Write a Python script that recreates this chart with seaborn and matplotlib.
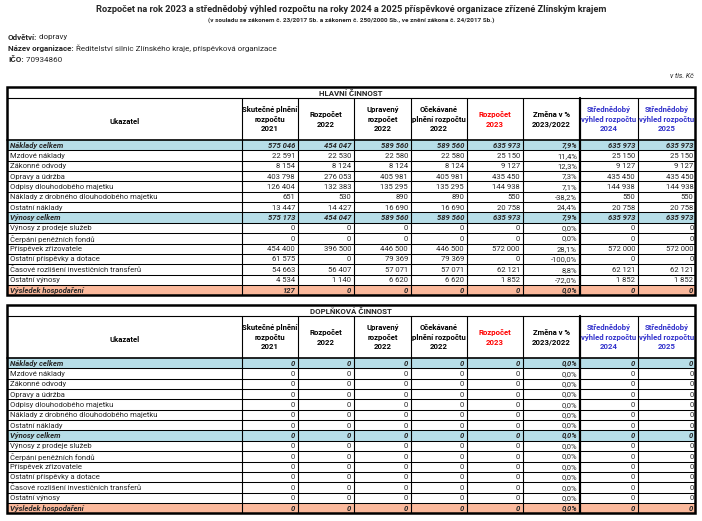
import matplotlib
matplotlib.use("Agg")
import matplotlib.pyplot as plt
from matplotlib import font_manager
from matplotlib.patches import Rectangle
import seaborn as sns

# texts
TITLE = ("Rozpočet na rok 2023 a střednědobý výhled rozpočtu na roky 2024 a 2025 "
         "příspěvkové organizace zřízené Zlínským krajem")
SUBTITLE = ("(v souladu se zákonem č. 23/2017 Sb. a zákonem č. 250/2000 Sb., "
            "ve znění zákona č. 24/2017 Sb.)")
info_bold = ["Odvětví:", "Název organizace:", "IČO:"]
info_text = [" dopravy", " Ředitelství silnic Zlínského kraje, příspěvková organizace", " 70934860"]
UNIT = "v tis. Kč"
sections = ["HLAVNÍ ČINNOST", "DOPLŇKOVÁ ČINNOST"]

col_headers = ["Ukazatel",
               "Skutečné plnění\nrozpočtu\n2021",
               "Rozpočet\n2022",
               "Upravený\nrozpočet\n2022",
               "Očekávané\nplnění rozpočtu\n2022",
               "Rozpočet\n2023",
               "Změna v %\n2023/2022",
               "Střednědobý\nvýhled rozpočtu\n2024",
               "Střednědobý\nvýhled rozpočtu\n2025"]

row_labels = ["Náklady celkem", "Mzdové náklady", "Zákonné odvody", "Opravy a údržba",
              "Odpisy dlouhodobého majetku", "Náklady z drobného dlouhodobého majetku",
              "Ostatní náklady", "Výnosy celkem", "Výnosy z prodeje služeb",
              "Čerpání peněžních fondů", "Příspěvek zřizovatele", "Ostatní příspěvky a dotace",
              "Časové rozlišení investičních transferů", "Ostatní výnosy", "Výsledek hospodaření"]
total_rows = ["Náklady celkem", "Výnosy celkem", "Výsledek hospodaření"]

# hlavní činnost
hl_2021 = [575046, 22591, 8154, 403798, 126404, 651, 13447, 575173, 0, 0, 454400, 61575, 54663, 4534, 127]
hl_r2022 = [454047, 22530, 8124, 276053, 132383, 530, 14427, 454047, 0, 0, 396500, 0, 56407, 1140, 0]
hl_u2022 = [589560, 22580, 8124, 405981, 135295, 890, 16690, 589560, 0, 0, 446500, 79369, 57071, 6620, 0]
hl_o2022 = [589560, 22580, 8124, 405981, 135295, 890, 16690, 589560, 0, 0, 446500, 79369, 57071, 6620, 0]
hl_r2023 = [635973, 25150, 9127, 435450, 144938, 550, 20758, 635973, 0, 0, 572000, 0, 62121, 1852, 0]
hl_change = [7.9, 11.4, 12.3, 7.3, 7.1, -38.2, 24.4, 7.9, 0.0, 0.0, 28.1, -100.0, 8.8, -72.0, 0.0]
hl_v2024 = [635973, 25150, 9127, 435450, 144938, 550, 20758, 635973, 0, 0, 572000, 0, 62121, 1852, 0]
hl_v2025 = [635973, 25150, 9127, 435450, 144938, 550, 20758, 635973, 0, 0, 572000, 0, 62121, 1852, 0]

# doplňková činnost
dp_2021 = [0] * 15
dp_r2022 = [0] * 15
dp_u2022 = [0] * 15
dp_o2022 = [0] * 15
dp_r2023 = [0] * 15
dp_change = [0.0] * 15
dp_v2024 = [0] * 15
dp_v2025 = [0] * 15

tables = [
    [hl_2021, hl_r2022, hl_u2022, hl_o2022, hl_r2023, hl_change, hl_v2024, hl_v2025],
    [dp_2021, dp_r2022, dp_u2022, dp_o2022, dp_r2023, dp_change, dp_v2024, dp_v2025],
]

BLUE_ROW = "#b7dee8"
SALMON_ROW = "#fbb99c"
HEAD_COLORS = ["black", "black", "black", "black", "black", "#ff0000", "black", "#3333cc", "#3333cc"]

# layout in pixels
COL_EDGES = [7, 242, 298, 354, 411, 467, 523, 580, 638, 695]
TABLE_TOPS = [87, 305]
TITLE_H = 10.5
HEAD_H = 42.5
ROW_H = 10.35

installed = {f.name for f in font_manager.fontManager.ttflist}
FONT = [f for f in ["Liberation Sans Narrow", "Roboto", "DejaVu Sans"] if f in installed]


def fmt_num(v):
    return f"{v:,}".replace(",", " ")


def fmt_pct(v):
    return f"{v:.1f}%".replace(".", ",")


def draw_table(ax, top, section, columns):
    left, right = COL_EDGES[0], COL_EDGES[-1]
    head_top = top + TITLE_H
    body_top = head_top + HEAD_H
    bottom = body_top + ROW_H * len(row_labels)

    # row fills
    for i, lab in enumerate(row_labels):
        y0 = body_top + i * ROW_H
        if lab in total_rows:
            c = SALMON_ROW if lab == "Výsledek hospodaření" else BLUE_ROW
            ax.add_patch(Rectangle((left, y0), right - left, ROW_H, color=c, lw=0, zorder=1))

    # grid
    ax.plot([left, right], [head_top, head_top], color="black", lw=0.8, zorder=3)
    ax.plot([left, right], [body_top, body_top], color="black", lw=1.2, zorder=3)
    for i in range(1, len(row_labels)):
        y = body_top + i * ROW_H
        ax.plot([left, right], [y, y], color="black", lw=0.75, zorder=3)
    for j, x in enumerate(COL_EDGES[1:-1], start=1):
        lw = 1.6 if j == 7 else 0.8
        ax.plot([x, x], [head_top, bottom], color="black", lw=lw, zorder=3)
    ax.add_patch(Rectangle((left, top), right - left, bottom - top, fill=False,
                           ec="black", lw=1.8, zorder=4))

    # section title
    ax.text((left + right) / 2, top + TITLE_H / 2 + 0.8, section, ha="center", va="center",
            fontsize=5.7, fontweight="bold", family=FONT, zorder=5)

    # headers
    for j, h in enumerate(col_headers):
        xc = (COL_EDGES[j] + COL_EDGES[j + 1]) / 2
        yc = head_top + HEAD_H / 2 + (3 if j == 0 else 0.5)
        ax.text(xc, yc, h, ha="center", va="center", fontsize=5.6, fontweight="bold",
                color=HEAD_COLORS[j], family=FONT, linespacing=1.45, zorder=5)

    # body
    for i, lab in enumerate(row_labels):
        yc = body_top + (i + 0.5) * ROW_H + 0.3
        tot = lab in total_rows
        style = dict(fontsize=5.5, family=FONT, va="center", zorder=5,
                     fontweight="bold" if tot else "normal",
                     fontstyle="italic" if tot else "normal")
        ax.text(COL_EDGES[0] + 2.5, yc, lab, ha="left", **style)
        for j, col in enumerate(columns):
            s = fmt_pct(col[i]) if j == 5 else fmt_num(col[i])
            pad = 1.6 if j == 7 else 3
            ax.text(COL_EDGES[j + 2] - pad, yc, s, ha="right", **style)


def main():
    sns.set_theme(style="white")
    plt.rcParams["font.family"] = FONT
    fig = plt.figure(figsize=(7.02, 5.21), dpi=100)
    ax = fig.add_axes([0, 0, 1, 1])
    ax.set_xlim(0, 702)
    ax.set_ylim(521, 0)
    ax.axis("off")

    ax.text(351, 10, TITLE, ha="center", va="center", fontsize=6.65, fontweight="bold")
    ax.text(351, 20, SUBTITLE, ha="center", va="center", fontsize=4.6, fontweight="bold")

    fig.canvas.draw()
    renderer = fig.canvas.get_renderer()
    for k, (b, t) in enumerate(zip(info_bold, info_text)):
        y = 37 + k * 11.5
        tb = ax.text(8, y, b, ha="left", va="center", fontsize=5.8, fontweight="bold")
        w = tb.get_window_extent(renderer).width
        ax.text(8 + w, y, t, ha="left", va="center", fontsize=5.8)

    ax.text(694, 76, UNIT, ha="right", va="center", fontsize=5.0, fontstyle="italic")

    for top, sec, cols in zip(TABLE_TOPS, sections, tables):
        draw_table(ax, top, sec, cols)

    fig.savefig("out.png", dpi=100, facecolor="white")


if __name__ == "__main__":
    main()
